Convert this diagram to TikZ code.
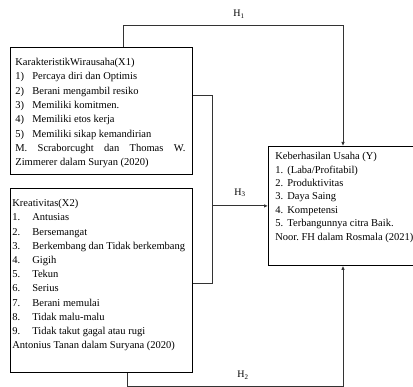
\documentclass[tikz,border=0pt]{standalone}
\usepackage{fontspec}
\setmainfont{Liberation Serif}
\usepackage{tikz}
\usetikzlibrary{positioning}
\usetikzlibrary{arrows.meta}
\frenchspacing

\begin{document}
\begin{tikzpicture}
  [
    x=1pt, y=1pt,
    box/.style={
       draw=black,
       line width=0.8pt,
       anchor=north west,
       inner xsep=5pt,
       inner ysep=0pt,
       font=\fontsize{10.5}{14.3}\selectfont
    },
    link/.style={
       draw=black!80,
       line width=0.9pt
    },
    tip/.style={
       link,
       -{Latex[length=4pt,width=3.5pt]}
    }
  ]
  \clip (0,0) rectangle (413,387);

  \node (kw) at (10,340) [box] {\parbox[t][127pt][t]{172pt}{\raggedright\vspace*{11pt}
    KarakteristikWirausaha(X1)\\
    \makebox[17pt][l]{1)}Percaya diri dan Optimis\\
    \makebox[17pt][l]{2)}Berani mengambil resiko\\
    \makebox[17pt][l]{3)}Memiliki komitmen.\\
    \makebox[17pt][l]{4)}Memiliki etos kerja\\
    \makebox[17pt][l]{5)}Memiliki sikap kemandirian\\
    \makebox[170pt][s]{M. Scraborcught dan Thomas W.}\\
    Zimmerer dalam Suryan (2020)}};

  \node (kr) at (10,199) [box, inner xsep=2pt, font=\fontsize{10.5}{14.2}\selectfont] {\parbox[t][184pt][t]{178pt}{\raggedright\vspace*{11pt}
    Kreativitas(X2)\\
    \makebox[20pt][l]{1.}Antusias\\
    \makebox[20pt][l]{2.}Bersemangat\\
    \makebox[20pt][l]{3.}Berkembang dan Tidak berkembang\\
    \makebox[20pt][l]{4.}Gigih\\
    \makebox[20pt][l]{5.}Tekun\\
    \makebox[20pt][l]{6.}Serius\\
    \makebox[20pt][l]{7.}Berani memulai\\
    \makebox[20pt][l]{8.}Tidak malu-malu\\
    \makebox[20pt][l]{9.}Tidak takut gagal atau rugi\\
    Antonius Tanan dalam Suryana (2020)}};

  \node (ky) at (268,241) [box, inner xsep=7pt, font=\fontsize{10.5}{13.4}\selectfont] {\parbox[t][119pt][t]{140pt}{\raggedright\vspace*{6pt}
    Keberhasilan Usaha (Y)\\
    \makebox[12pt][l]{1.}(Laba/Profitabil)\\
    \makebox[12pt][l]{2.}Produktivitas\\
    \makebox[12pt][l]{3.}Daya Saing\\
    \makebox[12pt][l]{4.}Kompetensi\\
    \makebox[12pt][l]{5.}Terbangunnya citra Baik.\\
    Noor. FH dalam Rosmala (2021)}};

  % H1
  \coordinate (h1a) at (123,362);
  \coordinate (h1b) at (343,362);
  \draw [tip] (kw.north -| h1a) -- (h1a) -- (h1b) -- (ky.north -| h1b);
  \node (h1) at (239,373) {H\textsubscript{1}};

  % H3
  \coordinate (h3a) at (212,292);
  \coordinate (h3b) at (212,104);
  \draw [link] (kw.east |- h3a) -- (h3a) -- (h3b) -- (kr.east |- h3b);
  \draw [tip] (ky.west -| h3a) -- (ky.west);
  \node (h3) at (240,194) {H\textsubscript{3}};

  % H2
  \coordinate (h2a) at (127,0.4);
  \coordinate (h2b) at (343,0.4);
  \draw [tip] (kr.south -| h2a) -- (h2a) -- (h2b) -- (ky.south -| h2b);
  \node (h2) at (243,12) {H\textsubscript{2}};
\end{tikzpicture}
\end{document}
